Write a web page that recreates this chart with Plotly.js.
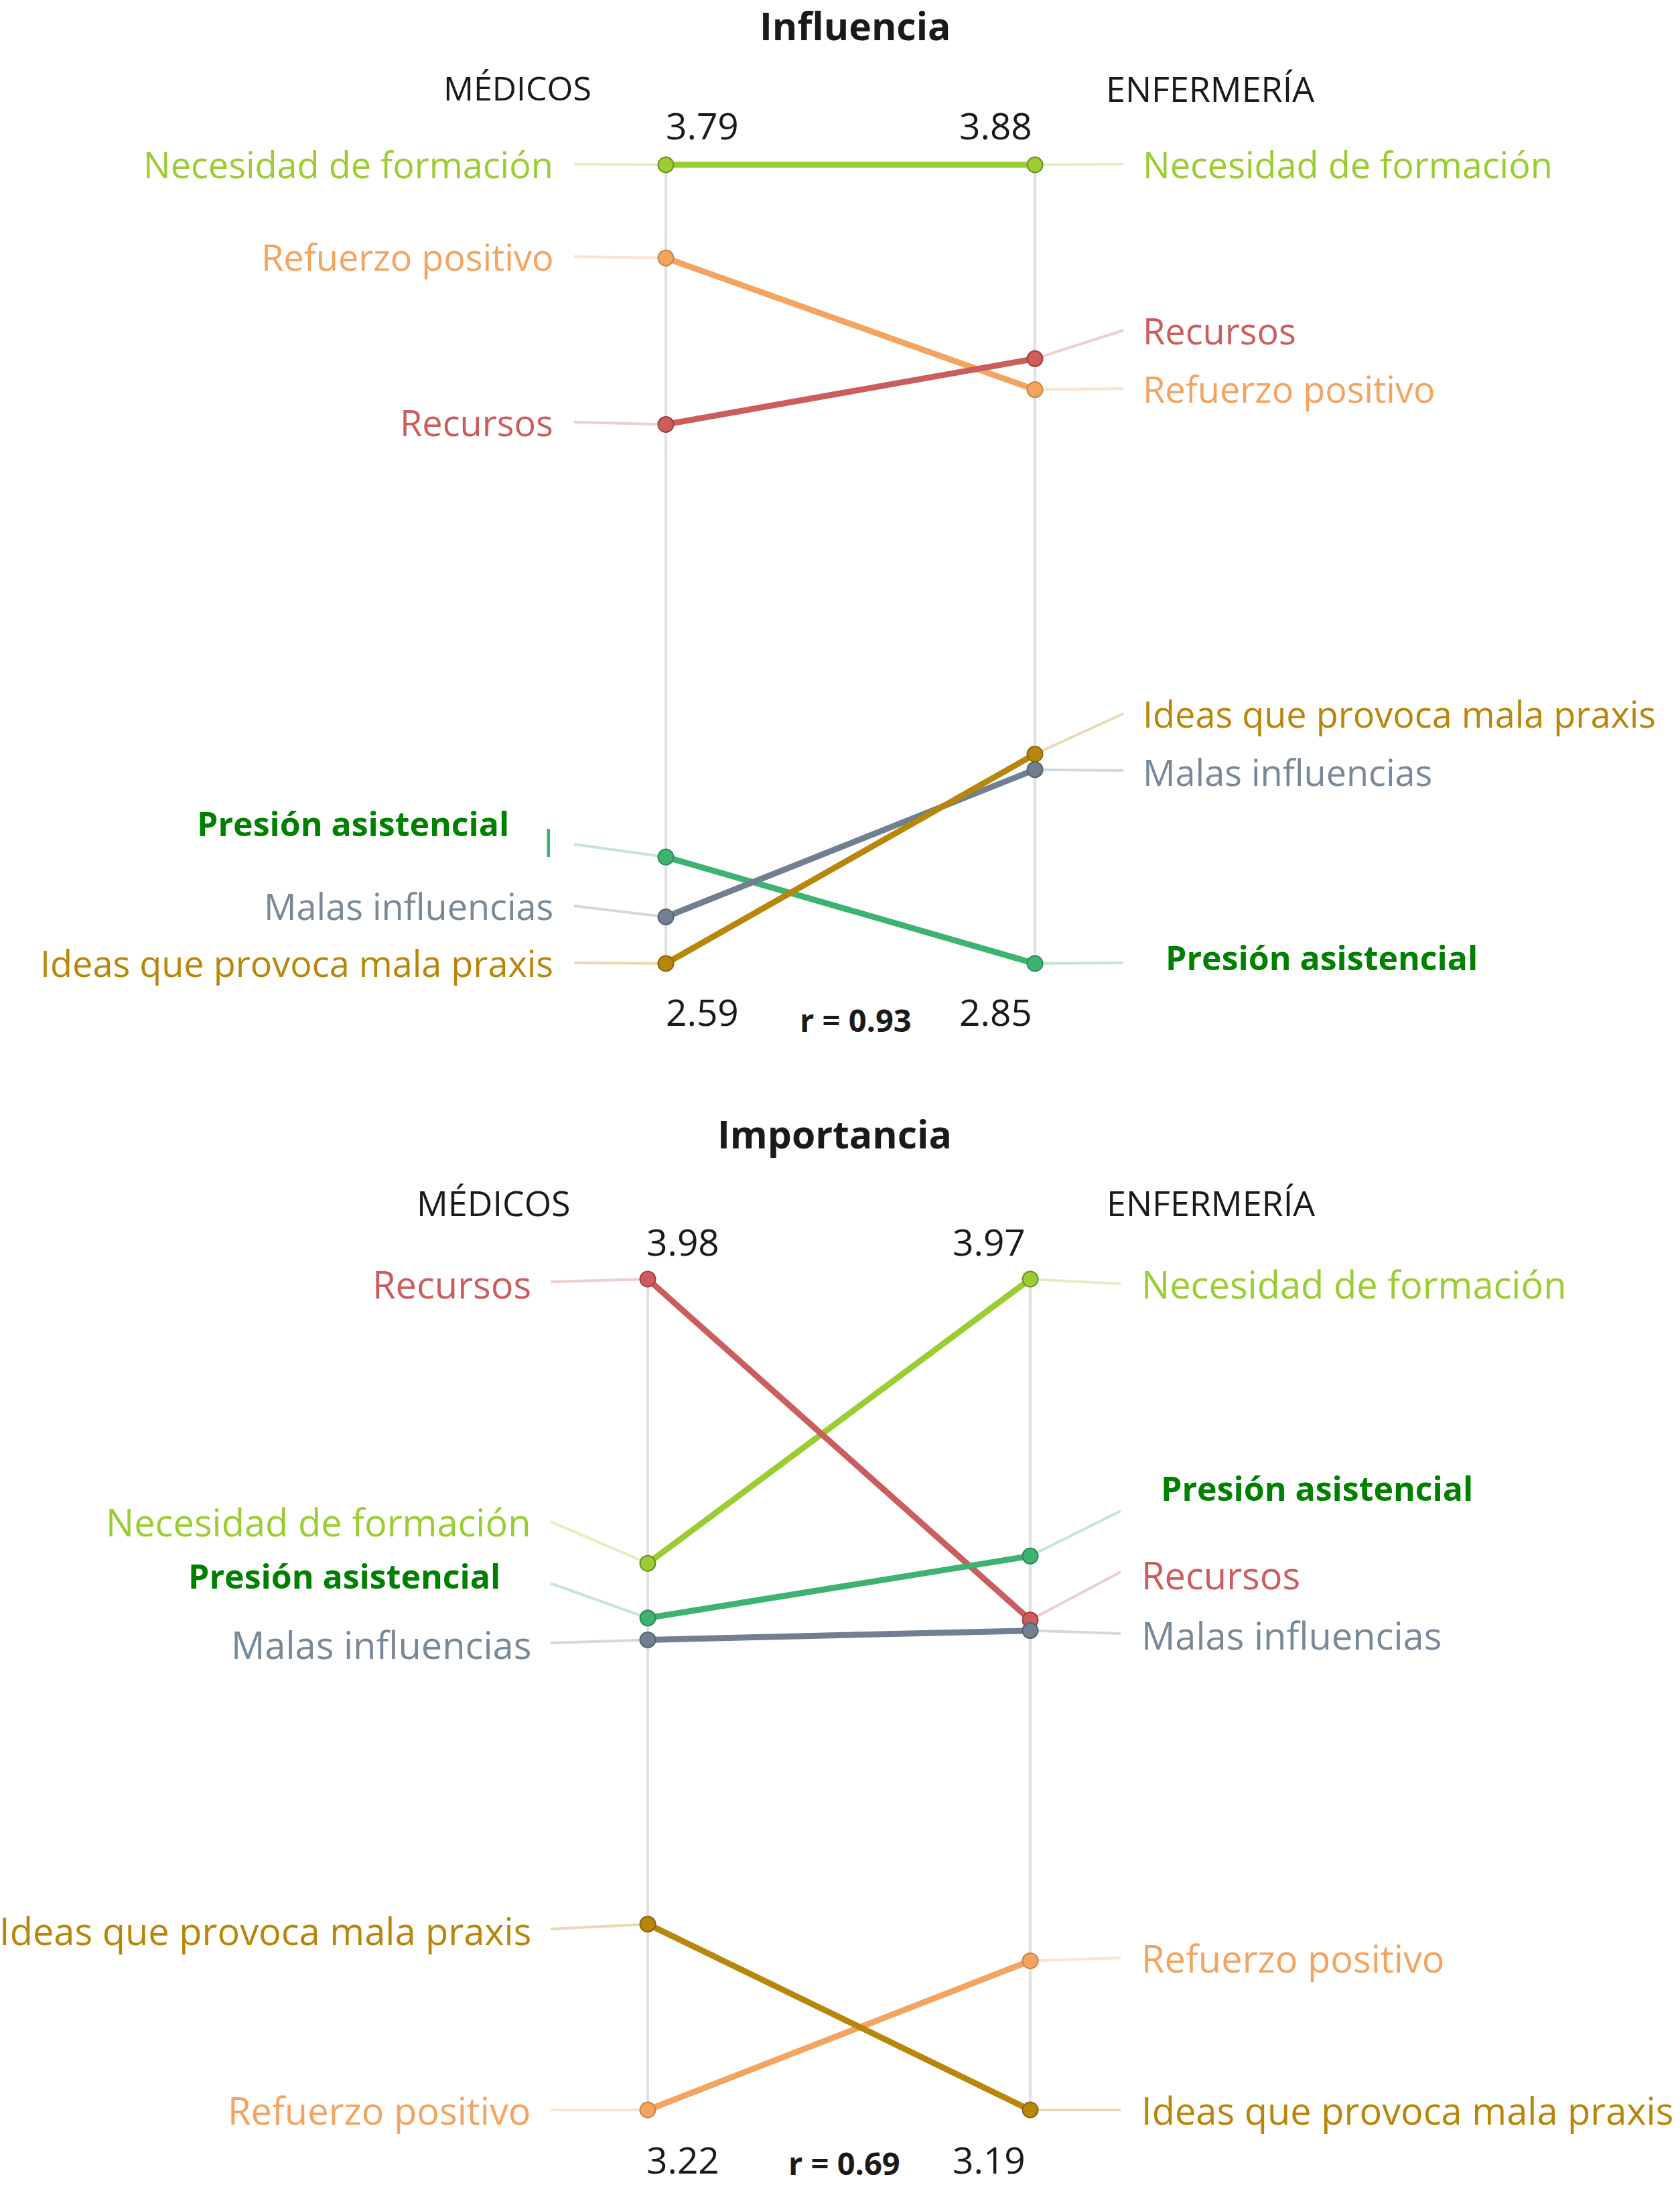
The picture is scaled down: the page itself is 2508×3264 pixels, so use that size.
<!DOCTYPE html>
<html>
<head>
<meta charset="utf-8">
<script src="https://cdn.plot.ly/plotly-3.0.1.min.js"></script>
<style>html,body{margin:0;padding:0;background:#fff}</style>
</head>
<body>
<div id="chart" style="width:2508px;height:3264px"></div>
<script>
// values
const categories = ["Necesidad de formación", "Refuerzo positivo", "Recursos",
  "Presión asistencial", "Malas influencias", "Ideas que provoca mala praxis"];
const groups = ["MÉDICOS", "ENFERMERÍA"];
const titles = ["Influencia", "Importancia"];
const influenciaMedicos = [3.79, 3.65, 3.40, 2.75, 2.66, 2.59];
const influenciaEnfermeria = [3.88, 3.59, 3.63, 2.85, 3.10, 3.12];
const importanciaMedicos = [3.72, 3.22, 3.98, 3.67, 3.65, 3.39];
const importanciaEnfermeria = [3.97, 3.33, 3.65, 3.71, 3.64, 3.19];
const correlations = [0.93, 0.69];

// styles per category
const lineColors = ["#9acd32", "#f4a460", "#cd5c5c", "#3cb371", "#708090", "#b8860b"];
const edgeColors = ["#6b8e23", "#c98446", "#a0403f", "#2e8b57", "#56636f", "#8b6508"];
const labelColors = ["#9acd32", "#f4a460", "#cd5c5c", "#008000", "#778899", "#b8860b"];
const boldLabel = [false, false, false, true, false, false];

const FONT = "Open Sans, Noto Sans, sans-serif";
const W = 2508, H = 3264;

// pixel layout of each panel (label dodging included)
const panels = [
  {
    left: influenciaMedicos, right: influenciaEnfermeria,
    xL: 994, xR: 1545, yTop: 246, yBot: 1438, labelSize: 54, groupSize: [50, 52],
    titleX: 1277, titleY: 38, groupX: [772, 1806], groupY: 131,
    numX: [1048, 1486], numTopY: 187, numBotY: 1509, rX: 1277, rY: 1522,
    leftLabelX: 828, leftBoldX: 762, leftLeadX: 857,
    rightLabelX: 1704, rightBoldX: 1738, rightLeadX: 1677,
    leftLabelY: [245, 383, 630, 1229, 1352, 1437],
    leftLeadY: [245, 383, 630, 1260, 1352, 1437],
    rightLabelY: [245, 580, 493, 1429, 1152, 1065],
    rightLeadY: [245, 580, 493, 1437, 1150, 1065]
  },
  {
    left: importanciaMedicos, right: importanciaEnfermeria,
    xL: 967, xR: 1538, yTop: 1909, yBot: 3149, labelSize: 56, groupSize: [52, 52],
    titleX: 1246, titleY: 1692, groupX: [737, 1808], groupY: 1794,
    numX: [1019, 1476], numTopY: 1852, numBotY: 3222, rX: 1260, rY: 3228,
    leftLabelX: 795, leftBoldX: 749, leftLeadX: 822,
    rightLabelX: 1702, rightBoldX: 1731, rightLeadX: 1673,
    leftLabelY: [2271, 3149, 1916, 2352, 2454, 2881],
    leftLeadY: [2271, 3149, 1913, 2363, 2452, 2879],
    rightLabelY: [1916, 2922, 2350, 2221, 2440, 3149],
    rightLeadY: [1916, 2922, 2346, 2255, 2438, 3149]
  }
];

function norm(arr) {
  let lo = Math.min(...arr), hi = Math.max(...arr);
  return arr.map(v => (v - lo) / (hi - lo));
}

let data = [];
let annotations = [];
let layout = {
  width: W, height: H,
  margin: { l: 0, r: 0, t: 0, b: 0 },
  paper_bgcolor: "#fff", plot_bgcolor: "rgba(0,0,0,0)",
  showlegend: false,
  font: { family: FONT }
};

panels.forEach((p, i) => {
  let sfx = i === 0 ? "" : "2";
  let xr = "x" + sfx, yr = "y" + sfx;
  let px2x = px => (px - p.xL) / (p.xR - p.xL);
  let py2y = py => (p.yBot - py) / (p.yBot - p.yTop);

  let axisBase = { domain: [0, 1], showgrid: false, zeroline: false, showticklabels: false, showline: false, ticks: "" };
  layout["xaxis" + sfx] = Object.assign({}, axisBase, { range: [px2x(0), px2x(W)], anchor: yr });
  layout["yaxis" + sfx] = Object.assign({}, axisBase, { range: [py2y(H), py2y(0)], anchor: xr });

  let nL = norm(p.left), nR = norm(p.right);

  // grey vertical axes
  [0, 1].forEach(x => {
    data.push({ x: [x, x], y: [0, 1], xaxis: xr, yaxis: yr, mode: "lines",
      line: { color: "#e0e0e0", width: 4 }, hoverinfo: "skip" });
  });

  // leader lines
  categories.forEach((c, k) => {
    data.push({ x: [px2x(p.leftLeadX), 0], y: [py2y(p.leftLeadY[k]), nL[k]], xaxis: xr, yaxis: yr,
      mode: "lines", opacity: 0.3, line: { color: lineColors[k], width: 4 }, hoverinfo: "skip" });
    data.push({ x: [1, px2x(p.rightLeadX)], y: [nR[k], py2y(p.rightLeadY[k])], xaxis: xr, yaxis: yr,
      mode: "lines", opacity: 0.3, line: { color: lineColors[k], width: 4 }, hoverinfo: "skip" });
  });

  // slopes
  categories.forEach((c, k) => {
    data.push({ x: [0, 1], y: [nL[k], nR[k]], xaxis: xr, yaxis: yr, name: c,
      mode: "lines+markers", cliponaxis: false,
      line: { color: lineColors[k], width: 9 },
      marker: { size: 23, color: lineColors[k], line: { color: edgeColors[k], width: 2 } } });
  });

  // category labels
  categories.forEach((c, k) => {
    let f = { family: FONT, size: boldLabel[k] ? 50 : p.labelSize, color: labelColors[k] };
    let t = boldLabel[k] ? "<b>" + c + "</b>" : c;
    annotations.push({ xref: xr, yref: yr, x: px2x(boldLabel[k] ? p.leftBoldX : p.leftLabelX),
      y: py2y(p.leftLabelY[k]), text: t,
      xanchor: "right", yanchor: "middle", showarrow: false, font: f });
    annotations.push({ xref: xr, yref: yr, x: px2x(boldLabel[k] ? p.rightBoldX : p.rightLabelX),
      y: py2y(p.rightLabelY[k]), text: t,
      xanchor: "left", yanchor: "middle", showarrow: false, font: f });
  });

  let paper = (x, y, text, size, bold) => ({
    xref: "paper", yref: "paper", x: x / W, y: 1 - y / H, text: bold ? "<b>" + text + "</b>" : text,
    xanchor: "center", yanchor: "middle", showarrow: false,
    font: { family: FONT, size: size, color: "#1a1a1a" }
  });

  annotations.push(paper(p.titleX, p.titleY, titles[i], 57, true));
  annotations.push(paper(p.groupX[0], p.groupY, groups[0], p.groupSize[0], false));
  annotations.push(paper(p.groupX[1], p.groupY, groups[1], p.groupSize[1], false));
  annotations.push(paper(p.numX[0], p.numTopY, Math.max(...p.left).toFixed(2), 55, false));
  annotations.push(paper(p.numX[1], p.numTopY, Math.max(...p.right).toFixed(2), 55, false));
  annotations.push(paper(p.numX[0], p.numBotY, Math.min(...p.left).toFixed(2), 55, false));
  annotations.push(paper(p.numX[1], p.numBotY, Math.min(...p.right).toFixed(2), 55, false));
  annotations.push(paper(p.rX, p.rY, "r = " + correlations[i].toFixed(2), 47, true));
});

// stray glyph left over from an overlapping label in the first panel
annotations.push({ xref: "paper", yref: "paper", x: 828 / W, y: 1 - 1258 / H, text: "l",
  xanchor: "right", yanchor: "middle", showarrow: false,
  font: { family: FONT, size: 54, color: "#3cb371" } });

layout.annotations = annotations;

Plotly.newPlot("chart", data, layout, { staticPlot: true, displayModeBar: false });
</script>
</body>
</html>
